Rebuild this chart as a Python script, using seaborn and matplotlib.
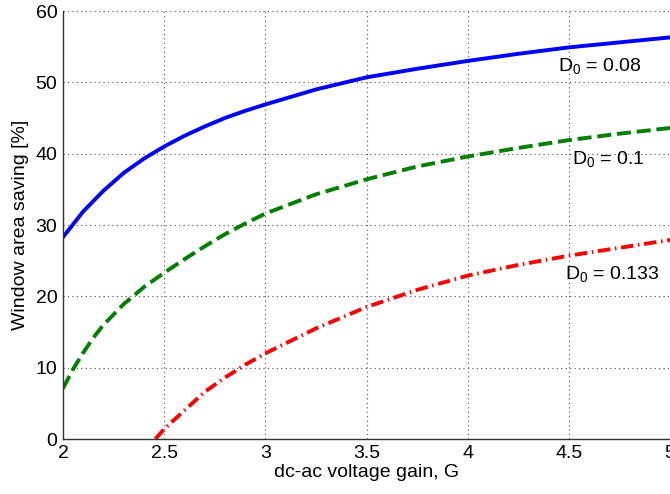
import matplotlib
matplotlib.use("Agg")
import matplotlib.pyplot as plt
import seaborn as sns
import pandas as pd

# values
gain_08 = [2.0, 2.1, 2.2, 2.3, 2.4, 2.5, 2.6, 2.7, 2.8, 2.9, 3.0, 3.25, 3.5, 3.75, 4.0, 4.25, 4.5, 4.75, 5.0]
saving_08 = [28.3, 31.9, 34.8, 37.3, 39.3, 41.0, 42.5, 43.8, 45.0, 46.0, 46.9, 49.0, 50.7, 51.9, 53.0, 54.0, 54.9, 55.6, 56.3]

gain_10 = [2.0, 2.05, 2.1, 2.15, 2.2, 2.3, 2.4, 2.5, 2.6, 2.7, 2.8, 2.9, 3.0, 3.25, 3.5, 3.75, 4.0, 4.25, 4.5, 4.75, 5.0]
saving_10 = [7.1, 9.8, 12.1, 14.2, 16.0, 18.9, 21.3, 23.3, 25.2, 27.0, 28.7, 30.2, 31.6, 34.3, 36.4, 38.2, 39.6, 40.8, 41.9, 42.8, 43.6]

gain_133 = [2.457, 2.5, 2.6, 2.7, 2.8, 2.9, 3.0, 3.25, 3.5, 3.75, 4.0, 4.25, 4.5, 4.75, 5.0]
saving_133 = [0.0, 1.4, 4.0, 6.6, 8.6, 10.4, 12.0, 15.5, 18.5, 20.9, 22.9, 24.4, 25.7, 26.8, 27.9]

labels = [r"D$_0$ = 0.08", r"D$_0$ = 0.1", r"D$_0$ = 0.133"]

sns.set_style("white")
plt.rcParams["font.family"] = ["Liberation Sans", "DejaVu Sans"]
plt.rcParams["mathtext.fontset"] = "custom"
plt.rcParams["mathtext.rm"] = "Liberation Sans"
plt.rcParams["mathtext.it"] = "Liberation Sans"
plt.rcParams["text.color"] = "black"
plt.rcParams["axes.labelcolor"] = "black"

fig = plt.figure(figsize=(6.70, 4.94), dpi=100)
ax = fig.add_axes([63 / 670, 55 / 494, 607 / 670, 428 / 494])

sns.lineplot(x=gain_08, y=saving_08, color="#0000ff", lw=2.8, ax=ax)
sns.lineplot(x=gain_10, y=saving_10, color="#008000", lw=2.8, linestyle=(0, (3.6, 1.5)), ax=ax)
sns.lineplot(x=gain_133, y=saving_133, color="#ff0000", lw=2.8, linestyle=(0, (3.2, 1.2, 0.4, 1.2)), ax=ax)

ax.set_xlim(2, 5)
ax.set_ylim(0, 60)
ax.set_xticks([2, 2.5, 3, 3.5, 4, 4.5, 5])
ax.set_xticklabels(["2", "2.5", "3", "3.5", "4", "4.5", "5"])
ax.set_yticks([0, 10, 20, 30, 40, 50, 60])
ax.tick_params(direction="in", length=5, width=0.8, labelsize=14, colors="black")
ax.tick_params(axis="x", pad=4)
ax.tick_params(axis="y", pad=4)
ax.grid(True, linestyle=(0, (1, 3)), color="#505050", lw=0.8)
for side in ["top", "right"]:
    ax.spines[side].set_visible(False)
for side in ["left", "bottom"]:
    ax.spines[side].set_color("#333333")
    ax.spines[side].set_linewidth(1.0)

ax.set_xlabel("dc-ac voltage gain, G", fontsize=14, labelpad=2)
ax.set_ylabel("Window area saving [%]", fontsize=14, labelpad=5)

ax.text(4.445, 52.3, labels[0], fontsize=14, va="center", ha="left")
ax.text(4.515, 39.3, labels[1], fontsize=14, va="center", ha="left")
ax.text(4.48, 23.2, labels[2], fontsize=14, va="center", ha="left")

fig.savefig("out.png", dpi=100)
